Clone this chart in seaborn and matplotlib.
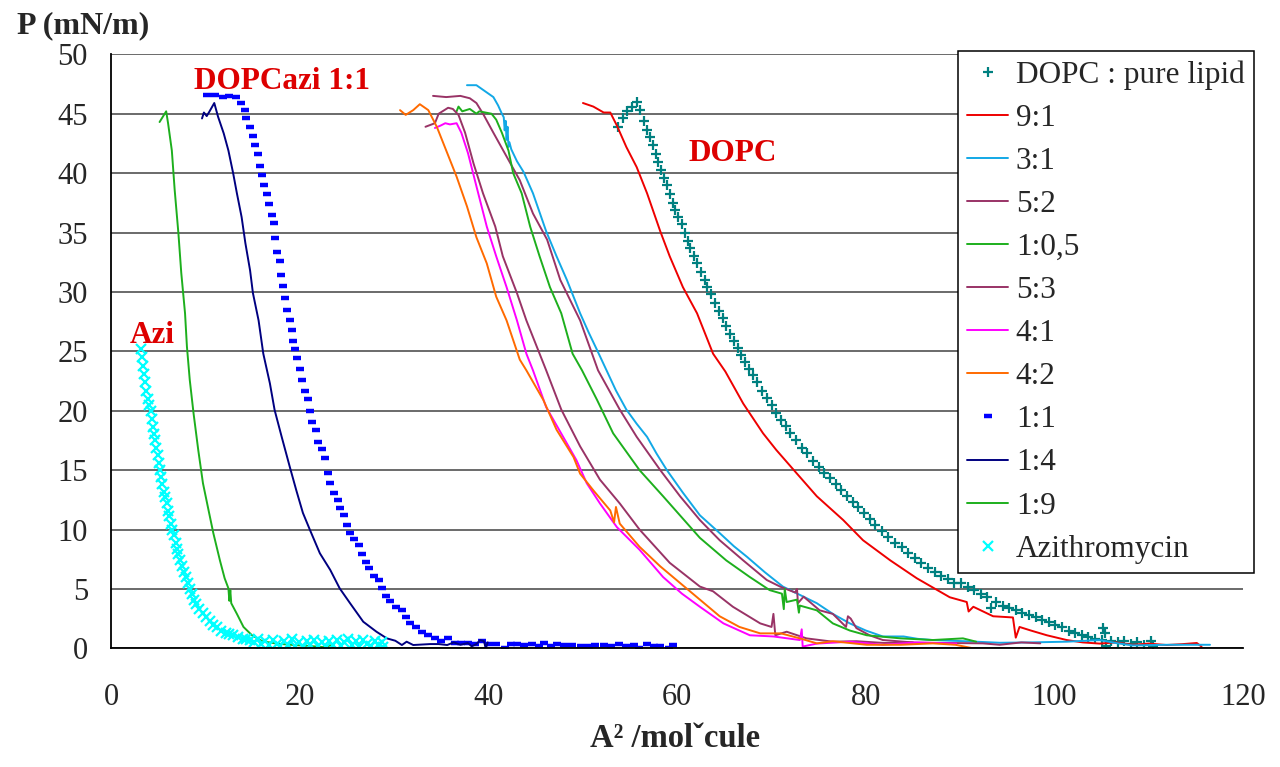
import matplotlib
matplotlib.use("Agg")
import matplotlib.pyplot as plt
import seaborn as sns

# DATA (area A^2/molecule, surface pressure mN/m)

dopc_pts = [
    (53.7, 43.9), (54.2, 44.6), (54.7, 45.2), (55.2, 45.6), (55.7, 46.0), (56.1, 45.3),
    (56.5, 44.4), (56.8, 43.6), (57.1, 43.0), (57.4, 42.4), (57.7, 41.6), (58.0, 40.9),
    (58.3, 40.3), (58.6, 39.6), (58.9, 39.0), (59.2, 38.2), (59.5, 37.5), (59.8, 36.9),
    (60.1, 36.3), (60.5, 35.7), (60.8, 35.0), (61.1, 34.3), (61.4, 33.7), (61.8, 33.0),
    (62.1, 32.4), (62.5, 31.7), (62.9, 31.0), (63.2, 30.4), (63.6, 29.8), (64.0, 29.1),
    (64.4, 28.4), (64.8, 27.8), (65.2, 27.1), (65.6, 26.5), (66.0, 25.9), (66.4, 25.3),
    (66.8, 24.7), (67.2, 24.1), (67.6, 23.5), (68.0, 23.0), (68.5, 22.4), (69.0, 21.7),
    (69.5, 21.1), (70.0, 20.5), (70.5, 19.8), (71.0, 19.2), (71.5, 18.7), (72.0, 18.1),
    (72.6, 17.5), (73.2, 16.9), (73.8, 16.4), (74.4, 15.8), (75.0, 15.3), (75.6, 14.8),
    (76.2, 14.3), (76.8, 13.8), (77.4, 13.3), (78.0, 12.8), (78.6, 12.3), (79.2, 11.9),
    (79.8, 11.4), (80.4, 10.9), (81.0, 10.4), (81.7, 9.9), (82.4, 9.4), (83.1, 8.9),
    (83.8, 8.5), (84.5, 8.0), (85.2, 7.6), (85.9, 7.2), (86.6, 6.8), (87.3, 6.4),
    (88.0, 6.1), (88.7, 5.8), (89.4, 5.5), (90.1, 5.5), (90.8, 5.2), (91.5, 4.95),
    (92.2, 4.6), (92.8, 4.3), (93.3, 3.4), (93.8, 3.9), (94.5, 3.6), (95.2, 3.4),
    (95.9, 3.2), (96.6, 3.0), (97.3, 2.8), (98.0, 2.6), (98.7, 2.4), (99.4, 2.2),
    (100.1, 2.0), (100.8, 1.8), (101.5, 1.5), (102.2, 1.3), (102.9, 1.1), (103.6, 0.95),
    (104.3, 0.8), (105.0, 0.7), (105.2, 1.7), (105.4, 1.3), (105.5, 0.2), (106.0, 0.6),
    (106.7, 0.5), (107.4, 0.6), (108.1, 0.4), (108.8, 0.5), (109.5, 0.3), (110.2, 0.6),
    (110.5, 0.2),
]

r91_pts = [
    (50.0, 45.9), (51.1, 45.6), (52.2, 45.1), (52.9, 45.1), (53.6, 44.0), (54.6, 42.2),
    (55.7, 40.5), (56.8, 38.3), (58.2, 35.1), (59.2, 33.0), (60.6, 30.4), (62.1, 28.2),
    (63.8, 24.8), (65.1, 23.3), (67.0, 20.6), (69.1, 18.1), (70.5, 16.7), (72.7, 14.7),
    (74.8, 12.8), (77.6, 10.8), (79.7, 9.1), (82.6, 7.4), (85.4, 5.9), (88.9, 4.3),
    (90.7, 3.9), (90.9, 3.1), (91.4, 3.5), (93.5, 2.7), (95.6, 2.6), (95.9, 0.9),
    (96.3, 1.8), (97.5, 1.5), (99.2, 1.1), (101.3, 0.7), (103.0, 0.5), (104.8, 0.4),
    (106.5, 0.5), (108.3, 0.3), (110.0, 0.4), (111.9, 0.28), (113.5, 0.35), (115.1, 0.45),
    (115.6, 0.15),
]

r31_pts = [
    (37.7, 47.4), (38.7, 47.4), (39.6, 46.9), (40.5, 46.4), (41.0, 45.7), (41.4, 45.0),
    (41.6, 44.7), (41.7, 43.6), (41.8, 44.4), (41.9, 42.8), (42.0, 43.9), (42.1, 42.2),
    (42.2, 42.6), (42.4, 42.0), (43.0, 41.0), (43.7, 40.1), (44.7, 38.3), (45.4, 36.7),
    (46.1, 35.1), (47.2, 33.0), (48.3, 31.0), (49.0, 29.6), (49.7, 28.2), (50.6, 26.6),
    (51.5, 25.1), (52.5, 23.4), (53.5, 21.7), (54.6, 20.1), (55.7, 18.9), (56.8, 17.8),
    (57.8, 16.4), (58.9, 15.0), (60.6, 13.1), (62.4, 11.2), (64.5, 9.7), (66.0, 8.6),
    (67.4, 7.7), (69.3, 6.4), (71.2, 5.2), (73.0, 4.5), (74.8, 3.8), (76.5, 2.9),
    (78.3, 2.1), (80.0, 1.5), (81.8, 1.0), (84.0, 1.0), (85.5, 0.8), (87.1, 0.7),
    (90.5, 0.6), (94.2, 0.47), (97.5, 0.5), (101.3, 0.56), (104.8, 0.7), (106.5, 0.45),
    (108.3, 0.25), (112.0, 0.3), (116.5, 0.3),
]

r52_pts = [
    (34.1, 46.5), (35.5, 46.4), (37.0, 46.5), (38.0, 46.3), (38.7, 45.9), (39.4, 45.0),
    (40.5, 43.4), (41.9, 41.4), (43.3, 39.4), (44.7, 36.6), (46.2, 34.4), (47.6, 31.0),
    (49.7, 27.6), (51.6, 23.4), (53.9, 20.1), (55.7, 17.8), (58.2, 15.0), (60.3, 12.8),
    (62.4, 10.8), (64.5, 9.1), (67.0, 7.4), (69.5, 5.75), (70.9, 5.2), (72.5, 4.7),
    (72.7, 5.0), (72.8, 3.8), (73.4, 4.35), (75.1, 3.2), (76.5, 2.9), (77.9, 1.8),
    (78.1, 2.7), (78.4, 2.5), (79.0, 1.7), (80.4, 1.1), (81.8, 0.7), (85.4, 0.47),
    (88.9, 0.45), (92.4, 0.42), (94.2, 0.3), (96.5, 0.5), (98.5, 0.42),
]

r105_pts = [
    (36.6, 45.2), (36.8, 45.6), (37.2, 45.2), (38.0, 45.4), (38.7, 45.0), (39.0, 45.2),
    (40.3, 45.0), (40.8, 44.5), (41.4, 43.4), (42.1, 41.9), (42.6, 40.0), (43.5, 38.3),
    (44.4, 35.5), (45.4, 33.0), (46.5, 30.4), (47.7, 28.2), (48.9, 24.8), (49.9, 23.4),
    (51.5, 20.9), (53.2, 18.1), (56.0, 15.0), (58.5, 12.8), (62.4, 9.3), (65.2, 7.4),
    (67.7, 6.0), (69.8, 4.9), (71.1, 4.6), (71.3, 3.3), (71.4, 5.0), (71.6, 3.9),
    (72.7, 4.1), (72.9, 3.0), (73.0, 3.6), (74.8, 3.2), (76.5, 2.1), (78.3, 1.5),
    (80.1, 1.1), (83.7, 0.84), (87.1, 0.7), (90.3, 0.84), (91.7, 0.56),
]

r53_pts = [
    (33.3, 43.9), (34.3, 44.2), (34.7, 45.0), (35.7, 45.5), (36.2, 45.4), (36.8, 44.9),
    (37.5, 43.4), (38.4, 40.8), (39.4, 38.3), (40.7, 35.5), (41.5, 33.0), (43.0, 29.9),
    (44.0, 27.6), (45.1, 25.4), (46.1, 23.4), (47.7, 20.1), (49.7, 17.0), (51.8, 14.2),
    (53.9, 12.2), (56.0, 10.0), (59.2, 7.2), (62.4, 5.2), (63.8, 4.8), (65.9, 3.5),
    (68.8, 2.1), (70.0, 1.8), (70.2, 2.9), (70.4, 1.1), (71.6, 1.4), (73.7, 0.84),
    (76.5, 0.56), (79.0, 0.6), (82.0, 0.45), (85.0, 0.5),
]

r41_pts = [
    (34.3, 43.8), (34.9, 44.0), (35.4, 44.2), (35.9, 44.1), (36.6, 44.2), (37.1, 43.4),
    (37.8, 41.7), (38.7, 38.9), (39.8, 35.5), (40.8, 33.0), (41.9, 30.4), (43.0, 27.6),
    (44.0, 24.8), (44.7, 23.4), (46.1, 20.3), (47.9, 17.8), (49.3, 15.85), (50.4, 13.9),
    (51.8, 12.2), (53.6, 10.2), (56.0, 8.3), (58.5, 6.0), (60.5, 4.6), (62.4, 3.5),
    (64.9, 2.1), (67.7, 1.1), (70.2, 1.0), (73.0, 0.7), (73.2, 1.6), (73.3, 0.15),
    (74.8, 0.4), (78.3, 0.56), (81.8, 0.3), (85.4, 0.5), (89.6, 0.4),
]

r42_pts = [
    (30.6, 45.3), (31.2, 44.9), (32.0, 45.3), (32.7, 45.8), (33.6, 45.3), (34.5, 43.9),
    (35.5, 41.9), (36.6, 39.7), (37.7, 37.2), (38.7, 34.6), (39.8, 32.4), (40.8, 29.6),
    (41.9, 27.6), (43.3, 24.3), (44.0, 23.4), (45.8, 20.9), (47.2, 18.4), (49.0, 16.1),
    (49.7, 14.7), (51.1, 13.3), (52.9, 11.6), (53.3, 10.6), (53.5, 11.9), (53.9, 10.5),
    (56.0, 8.55), (58.2, 6.9), (60.3, 5.5), (62.4, 4.1), (64.5, 2.7), (66.6, 1.8),
    (68.8, 1.26), (71.0, 1.26), (73.0, 0.84), (74.8, 0.42), (76.5, 0.6), (80.1, 0.3),
    (83.7, 0.3), (87.1, 0.42), (89.5, 0.3), (91.4, 0.0),
]

r11_pts = [
    (10.1, 46.6), (11.0, 46.6), (11.8, 46.4), (12.5, 46.5), (13.2, 46.4), (13.7, 45.9),
    (14.2, 45.3), (14.3, 44.6), (14.7, 43.9), (15.0, 43.1), (15.2, 42.4), (15.5, 41.6),
    (15.75, 40.6), (16.0, 39.8), (16.2, 39.0), (16.5, 38.2), (16.7, 37.4), (17.0, 36.5),
    (17.2, 35.8), (17.3, 34.5), (17.6, 33.4), (17.9, 32.6), (18.0, 31.4), (18.2, 30.5),
    (18.4, 29.5), (18.65, 28.5), (18.9, 27.6), (19.1, 26.8), (19.3, 25.9), (19.5, 25.2),
    (19.7, 24.4), (20.0, 23.5), (20.2, 22.6), (20.5, 21.7), (20.8, 21.0), (21.05, 19.95),
    (21.3, 19.05), (21.65, 18.4), (21.9, 17.4), (22.3, 16.8), (22.6, 16.0), (22.95, 14.8),
    (23.2, 13.9), (23.6, 13.1), (24.0, 12.5), (24.2, 11.8), (24.65, 11.2), (24.97, 10.4),
    (25.3, 9.7), (25.75, 9.2), (26.2, 8.7), (26.6, 7.9), (27.0, 7.3), (27.3, 6.8),
    (27.8, 6.1), (28.4, 5.75), (28.7, 5.05), (29.1, 4.4), (29.5, 4.0), (30.2, 3.5),
    (30.8, 3.2), (31.2, 2.6), (31.7, 2.1), (32.3, 1.8), (32.9, 1.4), (33.6, 1.1),
    (34.3, 0.9), (34.9, 0.6), (35.7, 0.84), (36.4, 0.42), (37.1, 0.47), (37.8, 0.45),
    (38.6, 0.4), (39.3, 0.64), (39.9, 0.4), (40.8, 0.36), (41.7, 0.05), (42.4, 0.4),
    (43.0, 0.36), (43.7, 0.3), (44.6, 0.36), (45.3, 0.17), (45.9, 0.45), (46.6, 0.17),
    (47.2, 0.36), (48.0, 0.3), (48.8, 0.3), (49.8, 0.17), (50.6, 0.17), (51.3, 0.3),
    (52.2, 0.3), (53.0, 0.17), (53.8, 0.33), (54.6, 0.17), (55.4, 0.3), (55.9, 0.06),
    (56.8, 0.33), (57.5, 0.17), (58.2, 0.17), (59.1, 0.06), (59.6, 0.28),
]

r14_pts = [
    (9.6, 44.6), (9.8, 45.1), (10.1, 44.8), (10.4, 45.2), (10.9, 45.9), (11.3, 44.75),
    (11.9, 43.35), (12.4, 41.9), (12.9, 40.0), (13.3, 38.3), (13.8, 36.3), (14.2, 34.1),
    (14.7, 31.8), (15.0, 29.9), (15.6, 27.6), (16.1, 24.8), (16.8, 22.3), (17.3, 20.06),
    (18.05, 17.8), (18.9, 15.3), (19.6, 13.3), (20.3, 11.4), (21.05, 9.96), (22.1, 8.0),
    (23.2, 6.6), (24.2, 5.05), (25.3, 3.8), (26.7, 2.24), (28.1, 1.4), (29.2, 0.84),
    (30.1, 0.64), (30.8, 0.28), (31.3, 0.56), (32.0, 0.28), (33.8, 0.36), (34.7, 0.36),
    (35.6, 0.28), (36.3, 0.5), (37.0, 0.3), (37.8, 0.45), (38.2, 0.17), (38.7, 0.36),
    (39.1, 0.7), (39.5, 0.6), (39.7, 0.0), (39.9, 0.5),
]

r19_pts = [
    (5.1, 44.3), (5.8, 45.2), (6.0, 44.2), (6.4, 41.9), (6.7, 38.6), (7.1, 34.9),
    (7.4, 31.6), (7.8, 28.2), (8.0, 25.4), (8.3, 22.6), (8.7, 19.8), (9.2, 16.7),
    (9.7, 13.9), (10.3, 11.6), (10.8, 9.7), (11.5, 7.4), (12.0, 5.9), (12.4, 5.05),
    (12.5, 4.0), (12.6, 4.9), (12.7, 3.8), (13.3, 2.9), (14.0, 1.8), (14.9, 1.1),
    (16.0, 0.6), (17.5, 0.4), (19.0, 0.3), (21.0, 0.2), (22.5, 0.1), (23.5, 0.3),
]

azi_pts = [
    (3.1, 25.2), (3.2, 24.5), (3.3, 23.8), (3.5, 23.1), (3.6, 22.4), (3.7, 21.7),
    (3.9, 21.0), (4.0, 20.5), (4.2, 20.0), (4.3, 19.3), (4.4, 18.6), (4.5, 18.0),
    (4.6, 17.5), (4.7, 16.9), (4.9, 16.3), (5.0, 15.6), (5.1, 15.0), (5.3, 14.4),
    (5.4, 13.8), (5.6, 13.2), (5.7, 12.7), (5.85, 12.2), (6.0, 11.6), (6.1, 11.1),
    (6.3, 10.5), (6.4, 10.0), (6.6, 9.5), (6.8, 8.9), (7.0, 8.4), (7.1, 7.9),
    (7.3, 7.4), (7.5, 6.9), (7.7, 6.4), (7.9, 6.0), (8.1, 5.5), (8.3, 5.0),
    (8.5, 4.6), (8.8, 4.1), (9.0, 3.7), (9.3, 3.3), (9.7, 2.95), (10.0, 2.6),
    (10.4, 2.3), (10.8, 2.0), (11.2, 1.8), (11.6, 1.5), (12.1, 1.3), (12.5, 1.2),
    (12.9, 1.1), (13.4, 0.95), (13.9, 0.8), (14.3, 0.75), (14.7, 0.7), (15.1, 0.5),
    (15.5, 0.8), (15.9, 0.4), (16.3, 0.6), (16.7, 0.3), (17.1, 0.7), (17.5, 0.4),
    (17.9, 0.2), (18.3, 0.6), (18.7, 0.3), (19.1, 0.8), (19.5, 0.2), (19.9, 0.5),
    (20.3, 0.1), (20.7, 0.6), (21.1, 0.3), (21.5, 0.7), (21.9, 0.2), (22.3, 0.5),
    (22.7, 0.1), (23.1, 0.6), (23.5, 0.3), (23.9, 0.7), (24.3, 0.2), (24.7, 0.5),
    (25.1, 0.8), (25.5, 0.3), (25.9, 0.6), (26.3, 0.1), (26.7, 0.7), (27.1, 0.4),
    (27.5, 0.2), (27.9, 0.6), (28.3, 0.3), (28.7, 0.5), (28.8, 0.1),
]

series_labels = ["DOPC : pure lipid", "9:1", "3:1", "5:2", "1:0,5", "5:3",
                 "4:1", "4:2", "1:1", "1:4", "1:9", "Azithromycin"]
series_points = [dopc_pts, r91_pts, r31_pts, r52_pts, r105_pts, r53_pts,
                 r41_pts, r42_pts, r11_pts, r14_pts, r19_pts, azi_pts]

x_ticks = [0, 20, 40, 60, 80, 100, 120]
y_ticks = [0, 5, 10, 15, 20, 25, 30, 35, 40, 45, 50]

# STYLES

styles = {
    "DOPC : pure lipid": dict(color="#008080", marker="+", linestyle="", markersize=7.5,
                              markeredgewidth=1.6, markeredgecolor="#008080"),
    "9:1": dict(color="#EE0000", linewidth=1.4),
    "3:1": dict(color="#12A8E6", linewidth=1.4),
    "5:2": dict(color="#993366", linewidth=1.4),
    "1:0,5": dict(color="#1DAF1D", linewidth=1.4),
    "5:3": dict(color="#993366", linewidth=1.4),
    "4:1": dict(color="#FF00FF", linewidth=1.4),
    "4:2": dict(color="#FF6A00", linewidth=1.4),
    "1:1": dict(color="#0000FF", marker="_", linestyle="", markersize=5.5,
                markeredgewidth=3.2, markeredgecolor="#0000FF"),
    "1:4": dict(color="#000080", linewidth=1.4),
    "1:9": dict(color="#1DAF1D", linewidth=1.4),
    "Azithromycin": dict(color="#00FFFF", marker="x", linestyle="", markersize=6.5,
                         markeredgewidth=1.6, markeredgecolor="#00FFFF"),
}

# PLOT

sns.set_style("white")
plt.rcParams["font.family"] = ["Liberation Serif", "DejaVu Serif"]

fig = plt.figure(figsize=(12.8, 7.67), dpi=100)
ax = fig.add_axes([0.0871, 0.1547, 0.884, 0.7745])

for label, pts in zip(series_labels, series_points):
    xs = [p[0] for p in pts]
    ys = [p[1] for p in pts]
    sns.lineplot(
        x=xs,
        y=ys,
        sort=False,
        estimator=None,
        label=label,
        ax=ax,
        **styles[label]
    )

ax.set_xlim(0, 120)
ax.set_ylim(0, 50)
ax.set_xticks(x_ticks)
ax.set_yticks(y_ticks)
ax.tick_params(axis="both", labelsize=22, direction="out", length=8, width=1.1, color="#333333")
ax.tick_params(axis="y", pad=9)
ax.tick_params(axis="x", pad=17)
ax.grid(axis="y", color="#6a6a6a", linewidth=1.4)
ax.grid(axis="x", visible=False)
for side in ["top", "right"]:
    ax.spines[side].set_visible(False)
for side in ["left", "bottom"]:
    ax.spines[side].set_color("black")
    ax.spines[side].set_linewidth(1.3)
ax.set_xlabel("")
ax.set_ylabel("")

# annotations
ann_color = "#DD0000"
ax.text(18.1, 47.1, "DOPCazi 1:1", color=ann_color, fontsize=22.5, fontweight="bold", ha="center", va="baseline")
ax.text(65.9, 41.0, "DOPC", color=ann_color, fontsize=22.5, fontweight="bold", ha="center", va="baseline")
ax.text(4.35, 25.7, "Azi", color=ann_color, fontsize=22.5, fontweight="bold", ha="center", va="baseline")

fig.text(17 / 1280, 1 - 33 / 767, "P (mN/m)", fontsize=23, fontweight="bold", ha="left", va="baseline")
fig.text(675 / 1280, 1 - 747 / 767, "A² /molˇcule", fontsize=23.5, fontweight="bold", ha="center", va="baseline")

leg = ax.legend(
    loc="upper left",
    bbox_to_anchor=(958 / 1280, 1 - 51 / 767),
    bbox_transform=fig.transFigure,
    borderaxespad=0,
    fontsize=22.5,
    frameon=True,
    fancybox=False,
    framealpha=1,
    edgecolor="black",
    handlelength=1.3,
    handletextpad=0.25,
    borderpad=0.3,
    labelspacing=0.45,
)
leg.get_frame().set_linewidth(1.1)

fig.savefig("out.png", dpi=100)
plt.close(fig)
